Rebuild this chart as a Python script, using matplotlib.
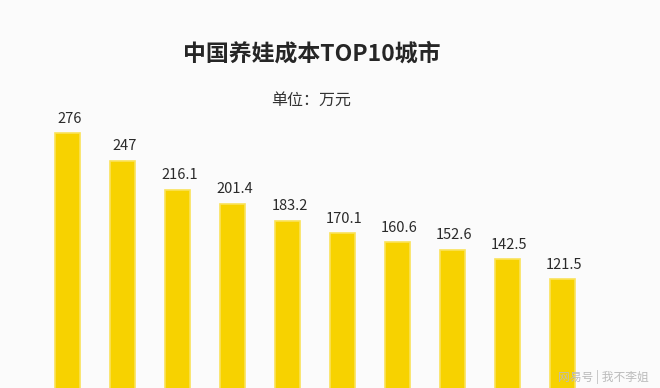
import matplotlib
matplotlib.use("Agg")
import matplotlib.pyplot as plt

plt.rcParams['font.family'] = ['Noto Sans CJK SC', 'DejaVu Sans']

# top 10 cities by child-raising cost (10k yuan)
ranks = list(range(10))
costs = [276, 247, 216.1, 201.4, 183.2, 170.1, 160.6, 152.6, 142.5, 121.5]
labels = ["276", "247", "216.1", "201.4", "183.2", "170.1", "160.6", "152.6", "142.5", "121.5"]

fig = plt.figure(figsize=(6.6, 3.88), dpi=100, facecolor="#fbfbfb")
ax = fig.add_axes([0, 0, 1, 1])
ax.set_facecolor("#fbfbfb")

ax.bar(ranks, costs, width=0.46, color="#f7d200", edgecolor="#fae25a", linewidth=1.2)
for x, v, t in zip(ranks, costs, labels):
    ax.text(x + 0.04, v + 8, t, ha="center", va="bottom", fontsize=10.5,
            color="#2a2a2a", fontweight="light")

ax.set_xlim(-1.23, 10.78)
ax.set_ylim(6.3, 417)
ax.axis("off")

fig.text(0.472, 0.86, "中国养娃成本TOP10城市", ha="center", va="center",
         fontsize=16.5, fontweight="bold", color="#262626")
fig.text(0.472, 0.742, "单位：万元", ha="center", va="center",
         fontsize=11.5, color="#333333")
fig.text(0.983, 0.028, "网易号 | 我不李姐", ha="right", va="center",
         fontsize=8.5, color="#bbbbbb")

fig.savefig("out.png", dpi=100, facecolor=fig.get_facecolor())
plt.close(fig)
